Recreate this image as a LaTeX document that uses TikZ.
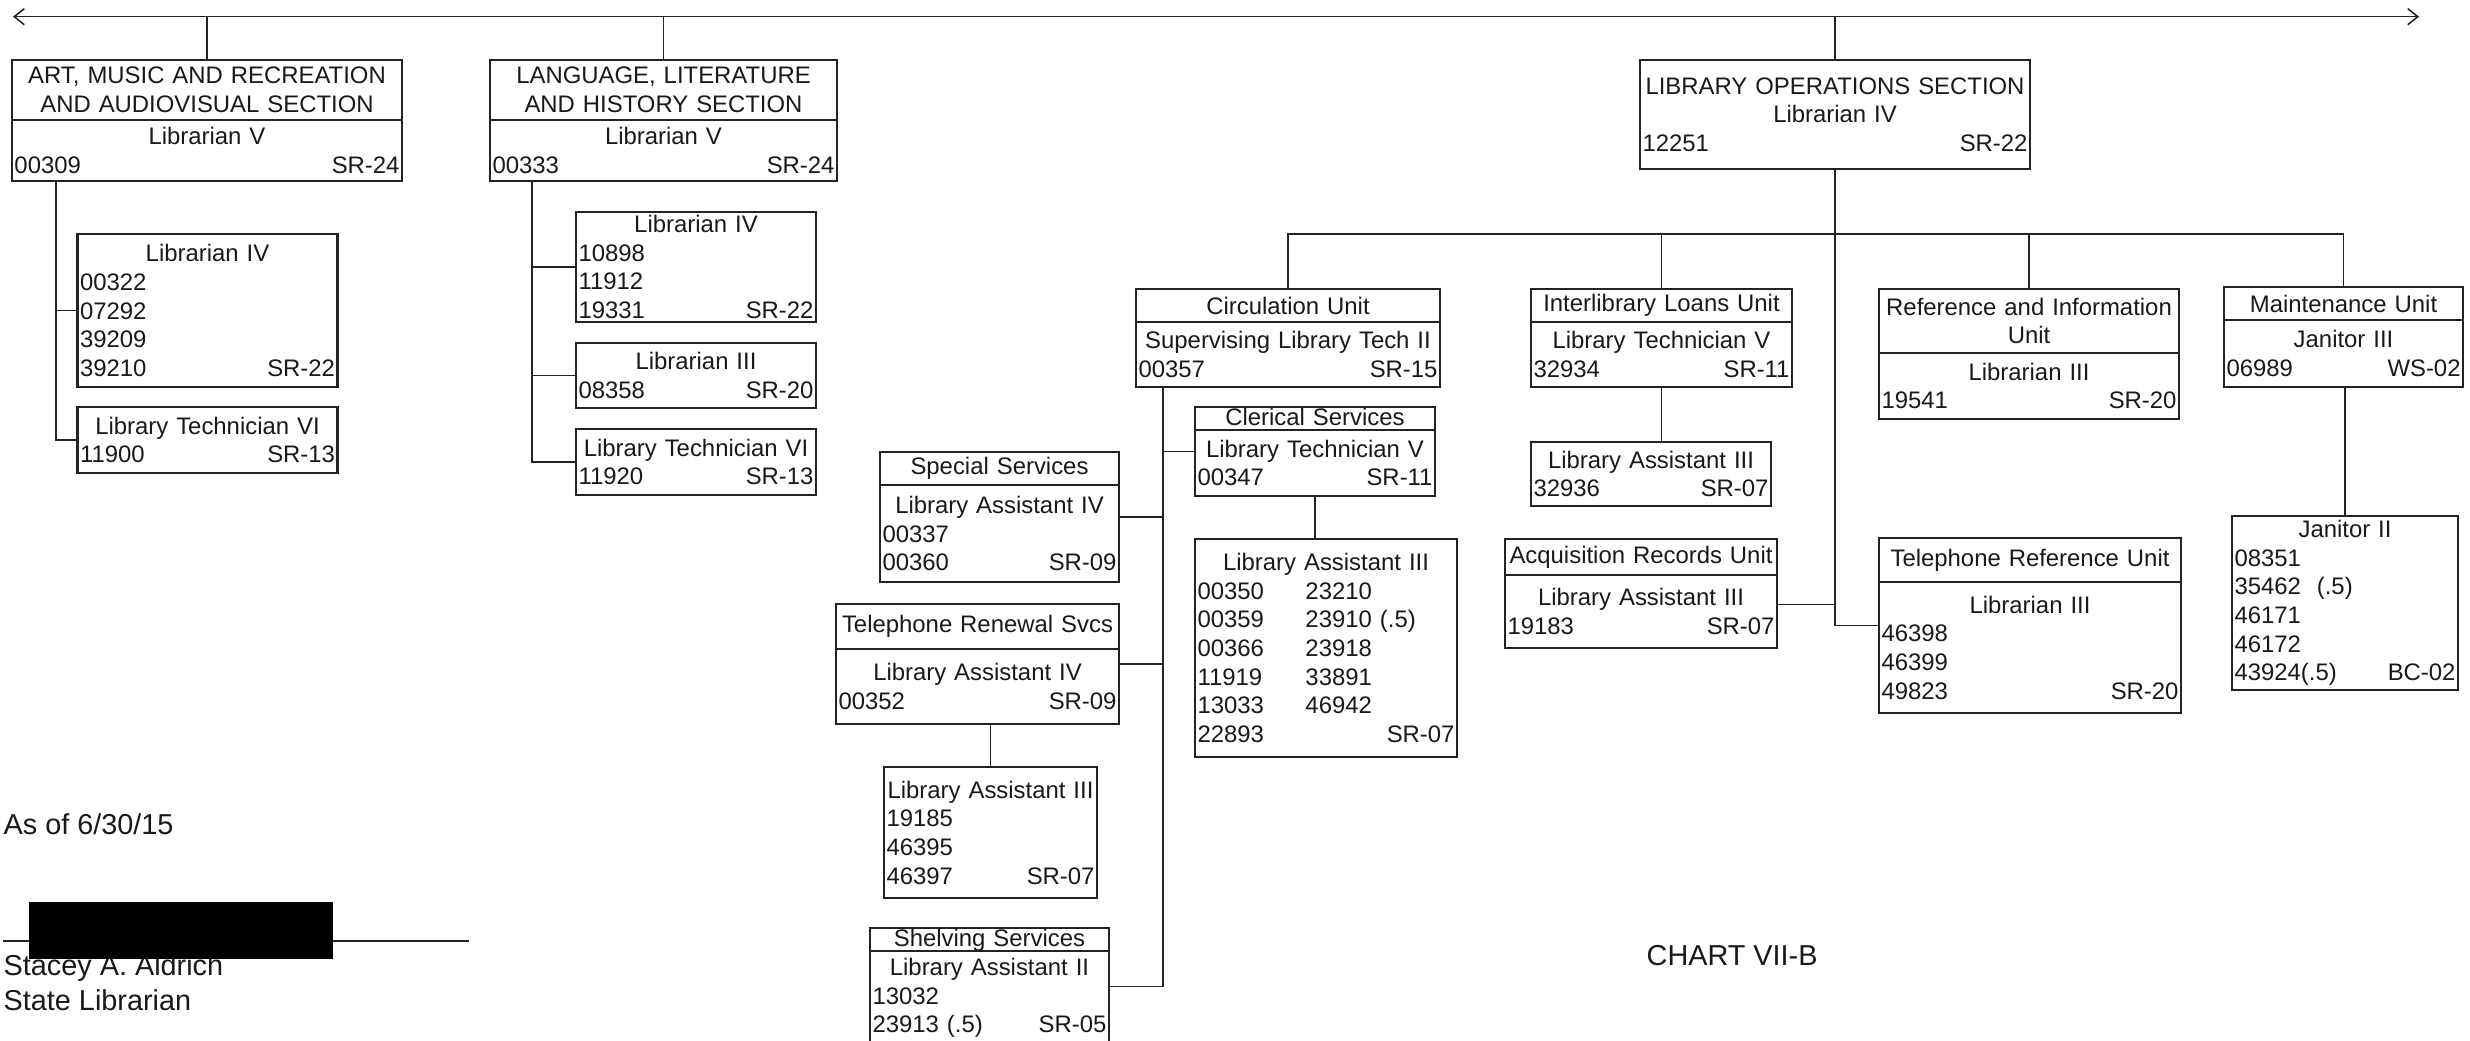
\documentclass[tikz,border=0pt]{standalone}
\usepackage{fontspec}
\setmainfont{Liberation Sans}
\usetikzlibrary{arrows.meta, positioning, calc}
\definecolor{colLine}{RGB}{35,35,35}
\definecolor{colText}{RGB}{25,25,25}
\newcommand{\boxfont}{\fontsize{6.8}{8.15}\selectfont}
\newcommand{\footfont}{\fontsize{8.2}{9.8}\selectfont}
\newcommand{\posrow}[2]{\leavevmode#1\hskip 0pt plus 1filll\relax #2\null}
\newcommand{\twocol}[2]{\makebox[10.8mm][l]{#1}#2}
\tikzset{
    unit/.style={rectangle, draw=colLine, line width=0.6pt, outer sep=0pt,
        inner xsep=0.25mm, inner ysep=0.1mm, align=center, font=\boxfont, text=colText},
    sz/.style 2 args={text width=#1mm-0.5mm, minimum height=#2mm},
    flat/.style={text height=4.6pt, text depth=0.8pt},
    link/.style={draw=colLine, line width=0.45pt},
    barbs/.style={{Straight Barb[length=1mm,width=1.6mm]}-{Straight Barb[length=1mm,width=1.6mm]}},
    foot/.style={inner sep=0pt, anchor=west, font=\footfont, text=colText}
}

\begin{document}
\begin{tikzpicture}[x=1mm, y=-1mm]
\useasboundingbox (0,0) rectangle (247,104);

    \coordinate (topL) at (1.3,1.67);
    \coordinate (topR) at (241.9,1.67);
    \coordinate (bus) at (0,23.4);

    \node[unit, sz={39}{6.0}, anchor=north west] (art) at (1.2,6.0) {ART, MUSIC AND RECREATION\\AND AUDIOVISUAL SECTION};
    \node[unit, sz={39}{6.1}, below=0pt of art] (artpos) {Librarian V\\\posrow{00309}{SR-24}};
    \node[unit, sz={34.7}{6.0}, anchor=north west] (lang) at (49.0,6.0) {LANGUAGE, LITERATURE\\AND HISTORY SECTION};
    \node[unit, sz={34.7}{6.1}, below=0pt of lang] (langpos) {Librarian V\\\posrow{00333}{SR-24}};
    \node[unit, sz={39}{10.9}, anchor=north west] (libops) at (164.0,6.0) {LIBRARY OPERATIONS SECTION\\Librarian IV\\\posrow{12251}{SR-22}};

    \node[unit, sz={26}{15.3}, anchor=north west] (artlibiv) at (7.75,23.4) {Librarian IV\\\posrow{00322}{}\\\posrow{07292}{}\\\posrow{39209}{}\\\posrow{39210}{SR-22}};
    \node[unit, sz={26}{6.6}, anchor=north west] (artltvi) at (7.75,40.7) {Library Technician VI\\\posrow{11900}{SR-13}};

    \node[unit, sz={24}{11.0}, anchor=north west] (langlibiv) at (57.6,21.2) {Librarian IV\\\posrow{10898}{}\\\posrow{11912}{}\\\posrow{19331}{SR-22}};
    \node[unit, sz={24}{6.5}, anchor=north west] (langlibiii) at (57.6,34.3) {Librarian III\\\posrow{08358}{SR-20}};
    \node[unit, sz={24}{6.6}, anchor=north west] (langltvi) at (57.6,42.9) {Library Technician VI\\\posrow{11920}{SR-13}};

    \node[unit, sz={30.4}{3.3}, anchor=north west] (circ) at (113.6,28.9) {Circulation Unit};
    \node[unit, sz={30.4}{6.5}, below=0pt of circ] (circpos) {Supervising Library Tech II\\\posrow{00357}{SR-15}};
    \node[unit, sz={26.1}{3.3}, anchor=north west] (ill) at (153.1,28.9) {Interlibrary Loans Unit};
    \node[unit, sz={26.1}{6.5}, below=0pt of ill] (illpos) {Library Technician V\\\posrow{32934}{SR-11}};
    \node[unit, sz={30}{6.4}, anchor=north west] (refinfo) at (187.9,28.9) {Reference and Information\\Unit};
    \node[unit, sz={30}{6.6}, below=0pt of refinfo] (refinfopos) {Librarian III\\\posrow{19541}{SR-20}};
    \node[unit, sz={23.9}{3.3}, anchor=north west] (maint) at (222.4,28.7) {Maintenance Unit};
    \node[unit, sz={23.9}{6.7}, below=0pt of maint] (maintpos) {Janitor III\\\posrow{06989}{WS-02}};

    \node[unit, sz={24}{6.4}, anchor=north west] (illla3) at (153.1,44.2) {Library Assistant III\\\posrow{32936}{SR-07}};

    \node[unit, sz={24}{2.3}, flat, anchor=north west] (cler) at (119.5,40.7) {Clerical Services};
    \node[unit, sz={24}{6.6}, below=0pt of cler] (clerpos) {Library Technician V\\\posrow{00347}{SR-11}};
    \node[unit, sz={26.2}{21.8}, anchor=north west] (clerla3) at (119.5,53.9) {Library Assistant III\\
        \posrow{\twocol{00350}{23210}}{}\\\posrow{\twocol{00359}{23910 (.5)}}{}\\\posrow{\twocol{00366}{23918}}{}\\
        \posrow{\twocol{11919}{33891}}{}\\\posrow{\twocol{13033}{46942}}{}\\\posrow{22893}{SR-07}};

    \node[unit, sz={23.9}{3.3}, anchor=north west] (spec) at (88.0,45.2) {Special Services};
    \node[unit, sz={23.9}{9.7}, below=0pt of spec] (specpos) {Library Assistant IV\\\posrow{00337}{}\\\posrow{00360}{SR-09}};
    \node[unit, sz={28.3}{4.5}, anchor=north west] (trs) at (83.6,60.4) {Telephone Renewal Svcs};
    \node[unit, sz={28.3}{7.5}, below=0pt of trs] (trspos) {Library Assistant IV\\\posrow{00352}{SR-09}};
    \node[unit, sz={21.3}{13.1}, anchor=north west] (trsla3) at (88.4,76.7) {Library Assistant III\\\posrow{19185}{}\\\posrow{46395}{}\\\posrow{46397}{SR-07}};
    \node[unit, sz={23.9}{2.3}, flat, anchor=north west] (shelv) at (87.0,92.8) {Shelving Services};
    \node[unit, sz={23.9}{9.4}, below=0pt of shelv] (shelvpos) {Library Assistant II\\\posrow{13032}{}\\\posrow{23913 (.5)}{SR-05}};

    \node[unit, sz={27.2}{3.6}, anchor=north west] (acq) at (150.5,53.9) {Acquisition Records Unit};
    \node[unit, sz={27.2}{7.3}, below=0pt of acq] (acqpos) {Library Assistant III\\\posrow{19183}{SR-07}};
    \node[unit, sz={30.2}{4.4}, anchor=north west] (telref) at (187.9,53.8) {Telephone Reference Unit};
    \node[unit, sz={30.2}{13.1}, below=0pt of telref] (telrefpos) {Librarian III\\\posrow{46398}{}\\\posrow{46399}{}\\\posrow{49823}{SR-20}};
    \node[unit, sz={22.6}{17.4}, anchor=north west] (jan2) at (223.2,51.6) {Janitor II\\\posrow{08351}{}\\\posrow{35462~~(.5)}{}\\\posrow{46171}{}\\\posrow{46172}{}\\\posrow{43924(.5)}{BC-02}};

    \coordinate (artspine) at ([xshift=4.4mm]artpos.south west);
    \coordinate (langspine) at ([xshift=4.2mm]langpos.south west);
    \coordinate (circspine) at ([xshift=2.7mm]circpos.south west);
    \coordinate (clermid) at ($(cler.north west)!0.5!(clerpos.south west)$);
    \coordinate (specmid) at ($(spec.north east)!0.5!(specpos.south east)$);
    \coordinate (trsmid) at ($(trs.north east)!0.5!(trspos.south east)$);
    \coordinate (shelvmid) at ($(shelv.north east)!0.5!(shelvpos.south east)$);
    \coordinate (acqmid) at ($(acq.north east)!0.6!(acqpos.south east)$);
    \coordinate (telrefmid) at ($(telref.north west)!0.5!(telrefpos.south west)$);

    \draw[link, barbs] (topL) -- (topR);
    \draw[link] (art.north) -- (art.north |- topL);
    \draw[link] (lang.north) -- (lang.north |- topL);
    \draw[link] (libops.north) -- (libops.north |- topL);

    \draw[link] (artspine) |- (artltvi.west);
    \draw[link] (artlibiv.west) -- (artlibiv.west -| artspine);
    \draw[link] (langspine) |- (langltvi.west);
    \draw[link] (langlibiv.west) -- (langlibiv.west -| langspine);
    \draw[link] (langlibiii.west) -- (langlibiii.west -| langspine);

    \draw[link] (libops.south) |- (telrefmid);
    \draw[link] (circ.north) -- (circ.north |- bus) -| (maint.north);
    \draw[link] (ill.north) -- (ill.north |- bus);
    \draw[link] (refinfo.north) -- (refinfo.north |- bus);
    \draw[link] (illpos.south) -- (illpos.south |- illla3.north);
    \draw[link] (acqmid) -- (acqmid -| libops.south);
    \draw[link] (jan2.north) -- (jan2.north |- maintpos.south);

    \draw[link] (circspine) |- (shelvmid);
    \draw[link] (clermid) -- (clermid -| circspine);
    \draw[link] (specmid) -- (specmid -| circspine);
    \draw[link] (trsmid) -- (trsmid -| circspine);
    \draw[link] (clerpos.south) -- (clerpos.south |- clerla3.north);
    \draw[link] (trsla3.north) -- (trsla3.north |- trspos.south);

    \node[foot] (asof) at (0.3,82.4) {As of 6/30/15};
    \coordinate (sigL) at (0.3,94.1);
    \coordinate (sigR) at (46.9,94.1);
    \draw[link, line width=0.6pt] (sigL) -- (sigR);
    \node[foot] (signame) at (0.3,96.8) {Stacey A. Aldrich};
    \node[foot] (sigrole) at (0.3,100.0) {State Librarian};
    \node[fill=black, inner sep=0pt, minimum width=30.4mm, minimum height=5.7mm, anchor=north west] (redact) at (2.8,90.1) {};
    \node[foot] (chart) at (164.6,95.6) {CHART VII-B};

\end{tikzpicture}
\end{document}
